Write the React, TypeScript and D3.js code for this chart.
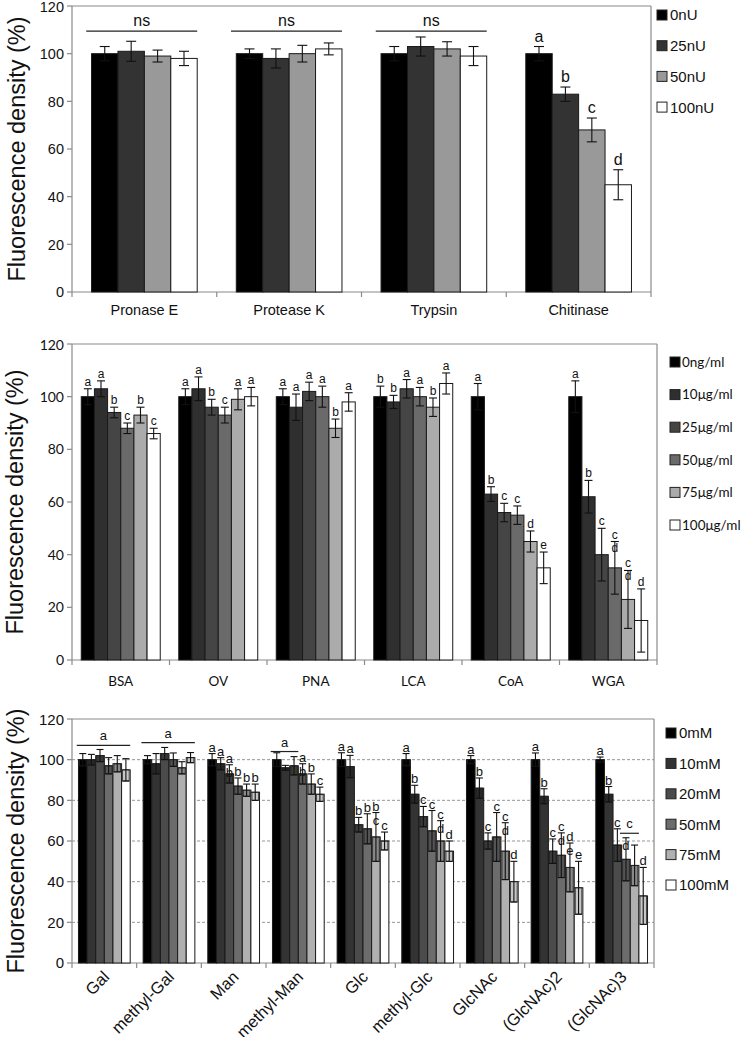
import React from "react";
import * as d3 from "d3";

const yTicks = [0, 20, 40, 60, 80, 100, 120];
const yTitle = "Fluorescence density (%)";

// ---------- Panel 1: proteases / chitinase ----------
const p1Categories = ["Pronase E", "Protease K", "Trypsin", "Chitinase"];
const p1Series = ["0nU", "25nU", "50nU", "100nU"];
const p1Colors = ["#000000", "#333333", "#999999", "#ffffff"];
const p1Values = [
  [100, 101, 99, 98],
  [100, 98, 100, 102],
  [100, 103, 102, 99],
  [100, 83, 68, 45],
];
const p1Errors = [
  [3, 4.2, 2.5, 3],
  [2, 4, 3.5, 2.5],
  [3, 4, 3, 4],
  [3, 3, 5, 6.3],
];
const p1Letters = [
  ["", "", "", ""],
  ["", "", "", ""],
  ["", "", "", ""],
  ["a", "b", "c", "d"],
];
const p1Brackets = [
  { category: 0, from: 0, to: 3, value: 109.5, label: "ns" },
  { category: 1, from: 0, to: 3, value: 109.5, label: "ns" },
  { category: 2, from: 0, to: 3, value: 109.5, label: "ns" },
];

// ---------- Panel 2: lectins ----------
const p2Categories = ["BSA", "OV", "PNA", "LCA", "CoA", "WGA"];
const p2Series = ["0ng/ml", "10μg/ml", "25μg/ml", "50μg/ml", "75μg/ml", "100μg/ml"];
const p2Colors = ["#000000", "#2f2f2f", "#454545", "#6a6a6a", "#ababab", "#ffffff"];
const p2Values = [
  [100, 103, 94, 88, 93, 86],
  [100, 103, 96, 93, 99, 100],
  [100, 96, 102, 100, 88, 98],
  [100, 98, 103, 100, 96, 105],
  [100, 63, 56, 55, 45, 35],
  [100, 62, 40, 35, 23, 15],
];
const p2Errors = [
  [3, 3, 2, 2, 3, 2],
  [3, 4.5, 3, 3, 4, 3.5],
  [3, 5, 3.5, 4, 3.5, 3.5],
  [4, 2.5, 3.5, 3.5, 3.5, 4],
  [5, 2.8, 3.5, 3.5, 4, 6],
  [6, 6.2, 10, 10, 11, 12],
];
const p2Letters = [
  ["a", "a", "b", "c", "b", "c"],
  ["a", "a", "b", "c", "a", "a"],
  ["a", "a", "a", "a", "b", "a"],
  ["b", "b", "a", "a", "b", "a"],
  ["a", "b", "c", "c", "d", "e"],
  ["a", "b", "c", "c\nd", "c\nd", "d"],
];

// ---------- Panel 3: sugars ----------
const p3Categories = ["Gal", "methyl-Gal", "Man", "methyl-Man", "Glc", "methyl-Glc", "GlcNAc", "(GlcNAc)2", "(GlcNAc)3"];
const p3Series = ["0mM", "10mM", "20mM", "50mM", "75mM", "100mM"];
const p3Colors = ["#000000", "#333333", "#4b4b4b", "#6c6c6c", "#b0b0b0", "#ffffff"];
const p3Values = [
  [100, 100, 102, 97, 98, 95],
  [100, 98, 103, 100, 96, 101],
  [100, 98, 93, 87, 85, 84],
  [100, 96, 97, 93, 88, 83],
  [100, 96.6, 68, 66, 62, 60],
  [100, 83, 72, 65, 60, 55],
  [100, 86, 60, 62, 55, 40],
  [100, 82, 55, 53, 47, 37],
  [100, 83, 58, 51, 48, 33],
];
const p3Errors = [
  [3, 2.6, 3, 4, 4, 5.5],
  [2, 5, 3, 3.3, 3, 2.5],
  [3, 3, 4.5, 4, 3, 4],
  [3.4, 1.2, 4.5, 5, 5, 3.5],
  [3.4, 5.5, 3.6, 7.4, 12, 4.4],
  [3, 4.4, 5, 10, 10, 5],
  [2, 5, 4, 12, 14, 10],
  [3.3, 3.7, 6, 11, 12, 13],
  [1.3, 3.8, 8, 10.6, 10, 14],
];
const p3Letters = [
  ["", "", "", "", "", ""],
  ["", "", "", "", "", ""],
  ["a", "a", "a\nb", "b", "b", "b"],
  ["", "", "", "a\nb", "b", "c"],
  ["a", "a", "b", "b", "b\nc", "c"],
  ["a", "b", "c", "c", "c\nd", "d"],
  ["a", "b", "c", "c", "c\nd", "d"],
  ["a", "b", "c", "c\nd", "d\ne", "e"],
  ["a", "b", "c", "\nd", "", "d"],
];
const p3Brackets = [
  { category: 0, from: 0, to: 5, value: 107, label: "a" },
  { category: 1, from: 0, to: 5, value: 108.4, label: "a" },
  { category: 3, from: 0, to: 2, value: 104, label: "a" },
  { category: 8, from: 3, to: 4, value: 63.8, label: "c" },
];

const ARIAL = "'Liberation Sans', Arial, sans-serif";
const CALIBRI = "Lato, 'Open Sans', sans-serif";

type PanelCfg = {
  left: number; right: number; top: number; bottom: number;
  categories: string[]; series: string[]; colors: string[];
  values: number[][]; errors: number[][]; letters: string[][];
  brackets: { category: number; from: number; to: number; value: number; label: string }[];
  groupFrac: number; capW: number; grid: boolean; boxErr: boolean;
  tickFont: string; tickSize: number; catFont: string; catSize: number; catY: number; rotate: boolean;
  letterSize: number; letterGap: number; bracketSize: number;
  titleX: number; titleSize: number;
  legX: number; legY: number; legStep: number; legSq: number; legTextX: number; legFont: string; legSize: number;
};

function Panel({ c }: { c: PanelCfg }) {
  const y = d3.scaleLinear().domain([0, 120]).range([c.bottom, c.top]);
  const x0 = d3.scaleBand<string>().domain(c.categories).range([c.left, c.right]);
  const gw = x0.bandwidth() * c.groupFrac;
  const off = (x0.bandwidth() - gw) / 2;
  const x1 = d3.scaleBand<string>().domain(c.series).range([0, gw]);
  const bw = x1.bandwidth();
  const axis = "#8a8a8a";
  const barX = (ci: number, si: number) => (x0(c.categories[ci]) as number) + off + (x1(c.series[si]) as number);

  return (
    <g>
      {c.grid &&
        yTicks.filter((t) => t > 0 && t < 120).map((t) => (
          <line key={"g" + t} x1={c.left} x2={c.right} y1={y(t)} y2={y(t)} stroke="#8a8a8a" strokeDasharray="3,2" strokeWidth={0.9} />
        ))}
      {/* frame */}
      <line x1={c.left} x2={c.right} y1={c.top} y2={c.top} stroke={axis} strokeWidth={1.2} />
      <line x1={c.right} x2={c.right} y1={c.top} y2={c.bottom} stroke={axis} strokeWidth={1.2} />
      <line x1={c.left} x2={c.left} y1={c.top} y2={c.bottom} stroke={axis} strokeWidth={1.2} />
      <line x1={c.left} x2={c.right} y1={c.bottom} y2={c.bottom} stroke={axis} strokeWidth={1.2} />
      {yTicks.map((t) => (
        <g key={"t" + t}>
          <line x1={c.left - 5} x2={c.left} y1={y(t)} y2={y(t)} stroke={axis} strokeWidth={1.2} />
          <text x={c.left - 8} y={Math.max(y(t), c.top + 1)} dy="0.36em" textAnchor="end" fontFamily={c.tickFont} fontSize={c.tickSize} fill="#111">
            {t}
          </text>
        </g>
      ))}
      {[...c.categories.map((k) => x0(k) as number), c.right].map((xx, i) => (
        <line key={"xt" + i} x1={xx} x2={xx} y1={c.bottom} y2={c.bottom + 5} stroke={axis} strokeWidth={1.2} />
      ))}
      {/* bars */}
      {c.values.map((row, ci) =>
        row.map((v, si) => (
          <rect key={`b${ci}-${si}`} x={barX(ci, si)} y={y(v)} width={bw} height={y(0) - y(v)} fill={c.colors[si]} stroke="#1a1a1a" strokeWidth={1} />
        ))
      )}
      {/* error bars */}
      {c.values.map((row, ci) =>
        row.map((v, si) => {
          const e = c.errors[ci][si];
          const cx = barX(ci, si) + bw / 2;
          const hi = y(v + e), lo = y(v - e);
          return (
            <g key={`e${ci}-${si}`}>
              {c.boxErr && (
                <rect x={cx - bw * 0.38} y={y(v)} width={bw * 0.76} height={lo - y(v)} fill="rgba(0,0,0,0.22)" stroke="#222" strokeWidth={0.8} />
              )}
              <line x1={cx} x2={cx} y1={hi} y2={lo} stroke="#111" strokeWidth={1.1} />
              <line x1={cx - c.capW / 2} x2={cx + c.capW / 2} y1={hi} y2={hi} stroke="#111" strokeWidth={1.1} />
              <line x1={cx - c.capW / 2} x2={cx + c.capW / 2} y1={lo} y2={lo} stroke="#111" strokeWidth={1.1} />
            </g>
          );
        })
      )}
      {/* letters */}
      {c.letters.map((row, ci) =>
        row.map((L, si) => {
          if (!L) return null;
          const v = c.values[ci][si] + c.errors[ci][si];
          const cx = barX(ci, si) + bw / 2;
          const lines = L.split("\n");
          return lines.map((ln, li) =>
            ln ? (
              <text key={`l${ci}-${si}-${li}`} x={cx} y={y(v) - c.letterGap + li * (c.letterSize + 1)} textAnchor="middle" fontFamily={ARIAL} fontSize={c.letterSize} fill="#111">
                {ln}
              </text>
            ) : null
          );
        })
      )}
      {/* brackets */}
      {c.brackets.map((b, i) => {
        const xa = barX(b.category, b.from) - bw * 0.2;
        const xb = barX(b.category, b.to) + bw;
        return (
          <g key={"br" + i}>
            <line x1={xa} x2={xb} y1={y(b.value)} y2={y(b.value)} stroke="#222" strokeWidth={1.2} />
            <text x={(xa + xb) / 2} y={y(b.value) - 5} textAnchor="middle" fontFamily={ARIAL} fontSize={c.bracketSize} fill="#111">
              {b.label}
            </text>
          </g>
        );
      })}
      {/* category labels */}
      {c.categories.map((k) => {
        const cx = (x0(k) as number) + x0.bandwidth() / 2;
        return c.rotate ? (
          <text key={"c" + k} transform={`translate(${cx + 6},${c.catY}) rotate(-45)`} textAnchor="end" fontFamily={c.catFont} fontSize={c.catSize} fill="#111">
            {k}
          </text>
        ) : (
          <text key={"c" + k} x={cx} y={c.catY} textAnchor="middle" fontFamily={c.catFont} fontSize={c.catSize} fill="#111">
            {k}
          </text>
        );
      })}
      {/* y title */}
      <text transform={`translate(${c.titleX},${(c.top + c.bottom) / 2}) rotate(-90)`} textAnchor="middle" dy="0.35em" fontFamily={ARIAL} fontSize={c.titleSize} fill="#111">
        {yTitle}
      </text>
      {/* legend */}
      {c.series.map((s, i) => {
        const cy = c.legY + i * c.legStep;
        return (
          <g key={"lg" + s}>
            <rect x={c.legX} y={cy - c.legSq / 2} width={c.legSq} height={c.legSq} fill={c.colors[i]} stroke="#222" strokeWidth={1} />
            <text x={c.legTextX} y={cy} dy="0.36em" fontFamily={c.legFont} fontSize={c.legSize} fill="#111">
              {s}
            </text>
          </g>
        );
      })}
    </g>
  );
}

const panel1: PanelCfg = {
  left: 72, right: 651, top: 6, bottom: 292,
  categories: p1Categories, series: p1Series, colors: p1Colors,
  values: p1Values, errors: p1Errors, letters: p1Letters, brackets: p1Brackets,
  groupFrac: 0.73, capW: 10, grid: false, boxErr: false,
  tickFont: ARIAL, tickSize: 14.5, catFont: ARIAL, catSize: 14.5, catY: 315, rotate: false,
  letterSize: 16, letterGap: 5, bracketSize: 16,
  titleX: 17, titleSize: 23.5,
  legX: 657, legY: 15, legStep: 30.7, legSq: 10, legTextX: 670, legFont: ARIAL, legSize: 15,
};

const panel2: PanelCfg = {
  left: 72, right: 657, top: 344, bottom: 660,
  categories: p2Categories, series: p2Series, colors: p2Colors,
  values: p2Values, errors: p2Errors, letters: p2Letters, brackets: [],
  groupFrac: 0.81, capW: 8, grid: false, boxErr: false,
  tickFont: CALIBRI, tickSize: 14, catFont: CALIBRI, catSize: 13.5, catY: 686, rotate: false,
  letterSize: 12, letterGap: 3, bracketSize: 12,
  titleX: 15, titleSize: 23.5,
  legX: 670, legY: 362, legStep: 32.6, legSq: 10, legTextX: 682, legFont: CALIBRI, legSize: 13.5,
};

const panel3: PanelCfg = {
  left: 72, right: 654, top: 719, bottom: 963,
  categories: p3Categories, series: p3Series, colors: p3Colors,
  values: p3Values, errors: p3Errors, letters: p3Letters, brackets: p3Brackets,
  groupFrac: 0.8, capW: 7, grid: true, boxErr: true,
  tickFont: ARIAL, tickSize: 15, catFont: ARIAL, catSize: 16.5, catY: 978, rotate: true,
  letterSize: 13, letterGap: 2, bracketSize: 13,
  titleX: 16, titleSize: 23.5,
  legX: 666, legY: 733, legStep: 30.4, legSq: 10, legTextX: 679, legFont: ARIAL, legSize: 15,
};

export default function App() {
  return (
    <svg width={742} height={1037} style={{ position: "absolute", left: 0, top: 0, background: "#fff" }}>
      <rect x={0} y={0} width={742} height={1037} fill="#fff" />
      <Panel c={panel1} />
      <Panel c={panel2} />
      <Panel c={panel3} />
    </svg>
  );
}
